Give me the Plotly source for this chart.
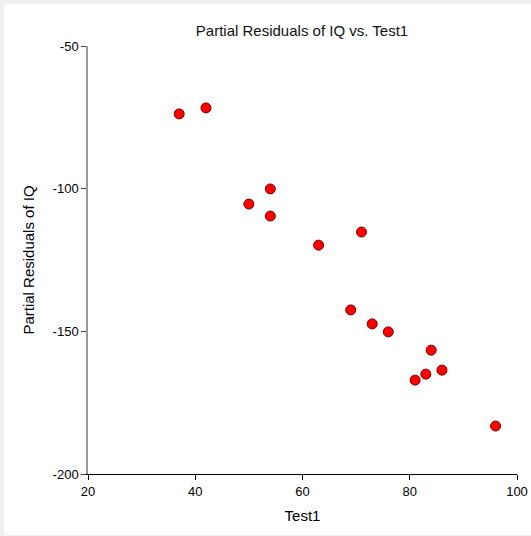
import plotly.graph_objects as go

test1 = [37, 42, 50, 54, 54, 63, 71, 69, 73, 76, 84, 81, 83, 86, 96]
partial_resid = [-73.8, -71.7, -105.4, -100.1, -109.6, -119.8, -115.2, -142.5,
                 -147.4, -150.2, -156.6, -167.1, -165.0, -163.6, -183.2]
x_ticks = [20, 40, 60, 80, 100]
y_ticks = [-200, -150, -100, -50]
y_tick_text = ["-200", "-150", "-100", "-50"]

W, H = 531, 536
L, R, T, B = 88, 14, 46, 62
pw, ph = W - L - R, H - T - B

def px(x):
    return (x - L) / pw

def py(y):
    return (H - B - y) / ph

fig = go.Figure()
fig.add_trace(go.Scatter(
    x=test1, y=partial_resid, mode="markers",
    marker=dict(size=10, color="#ff0000", line=dict(color="#7a0000", width=1)),
    hoverinfo="x+y", showlegend=False,
))

fig.update_layout(
    width=W, height=H, autosize=False,
    margin=dict(l=L, r=R, t=T, b=B, autoexpand=False),
    paper_bgcolor="#f0f0f0",
    plot_bgcolor="rgba(0,0,0,0)",
    font=dict(family="Liberation Sans, Arial, sans-serif", size=13, color="#000"),
    title=dict(text="Partial Residuals of IQ vs. Test1", x=px(302), xref="paper",
               xanchor="center", y=1 - 30.5 / H, yanchor="middle",
               font=dict(size=15, color="#111")),
    shapes=[dict(type="rect", xref="paper", yref="paper", layer="below",
                 x0=px(4), x1=px(W + 2), y0=py(535), y1=py(4),
                 fillcolor="white", line=dict(width=0))],
    xaxis=dict(range=[20, 100], tickvals=x_ticks, showgrid=False, zeroline=False,
               showline=True, linecolor="#000", linewidth=1,
               ticks="outside", ticklen=5, tickcolor="#000",
               tickfont=dict(size=13),
               title=dict(text="Test1", font=dict(size=15), standoff=12)),
    yaxis=dict(range=[-200, -50], tickvals=y_ticks, ticktext=y_tick_text,
               showgrid=False, zeroline=False,
               showline=True, linecolor="#999", linewidth=1.5,
               ticks="outside", ticklen=5, tickcolor="#444",
               tickfont=dict(size=13),
               title=dict(text="Partial Residuals of IQ", font=dict(size=15), standoff=14)),
)

fig.write_html("out.html", config={"responsive": False})
